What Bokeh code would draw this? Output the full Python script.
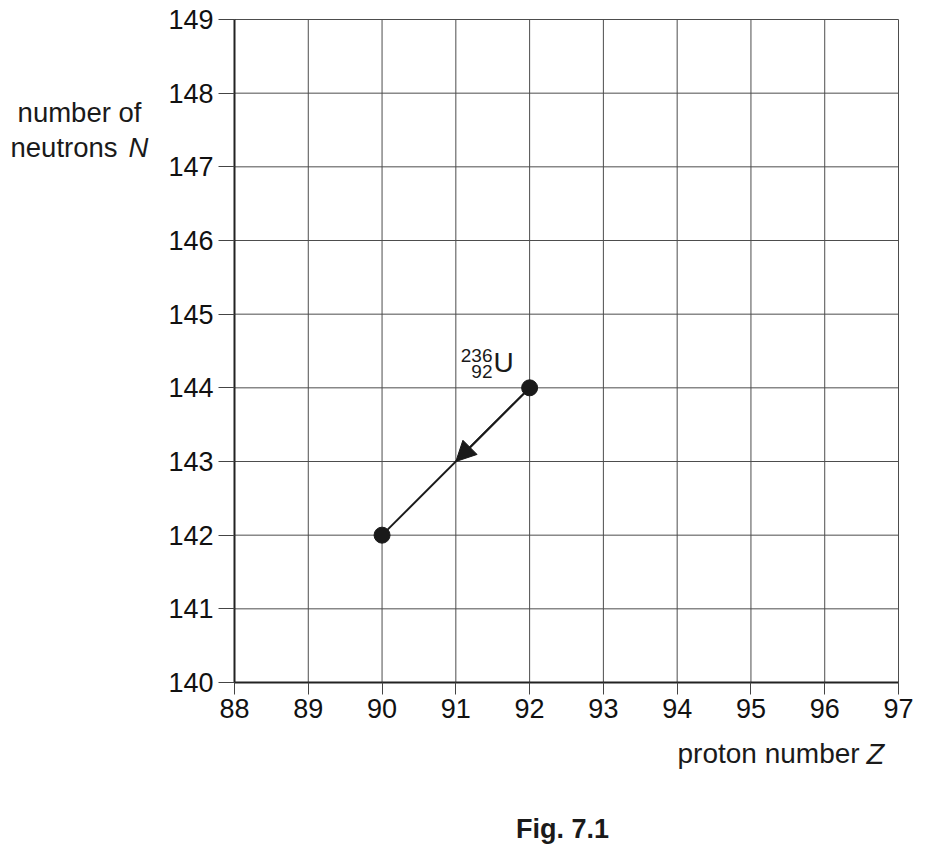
from bokeh.plotting import figure
from bokeh.models import Range1d, Label, Arrow, NormalHead, FixedTicker, LinearAxis
from bokeh.embed import file_html
from bokeh.resources import INLINE

# data
proton_z = [92, 90]
neutron_n = [144, 142]
x_ticks = [88, 89, 90, 91, 92, 93, 94, 95, 96, 97]
y_ticks = [140, 141, 142, 143, 144, 145, 146, 147, 148, 149]

FONT = "Liberation Sans"
W, H = 928, 855
X0, X1 = x_ticks[0], x_ticks[-1]
Y0, Y1 = y_ticks[0], y_ticks[-1]
FL, FR, FT, FB = 234, 898, 19, 682  # pixel box of the 88..97 x 140..149 grid

kx = (X1 - X0) / (FR - FL)
ky = (Y1 - Y0) / (FB - FT)

def dx(px):
    return X0 + (px - FL) * kx

def dy(py):
    return Y1 - (py - FT) * ky

p = figure(width=W, height=H, output_backend="svg", toolbar_location=None,
           x_range=Range1d(dx(0), dx(W)), y_range=Range1d(dy(H), dy(0)),
           x_axis_location=None, y_axis_location=None, min_border=0)
p.background_fill_color = "white"
p.border_fill_color = "white"
p.outline_line_color = None
p.grid.visible = False

# grid lines drawn from the tick lists
p.segment(x0=x_ticks, y0=[Y0] * len(x_ticks), x1=x_ticks, y1=[Y1] * len(x_ticks),
          line_color="#4d4d4d", line_width=1)
p.segment(x0=[X0] * len(y_ticks), y0=y_ticks, x1=[X1] * len(y_ticks), y1=y_ticks,
          line_color="#4d4d4d", line_width=1)

xax = LinearAxis(fixed_location=Y0, ticker=FixedTicker(ticks=x_ticks), bounds=(X0, X1))
yax = LinearAxis(fixed_location=X0, ticker=FixedTicker(ticks=y_ticks), bounds=(Y0, Y1))
for ax in (xax, yax):
    ax.axis_line_color = "#222222"
    ax.axis_line_width = 2
    ax.major_tick_line_color = "#444444"
    ax.major_tick_line_width = 1
    ax.minor_tick_line_color = None
    ax.major_tick_in = 0
    ax.major_label_text_font = FONT
    ax.major_label_text_font_size = "27px"
    ax.major_label_text_color = "#111111"
xax.major_tick_out = 12
yax.major_tick_out = 16
xax.major_label_standoff = 4
yax.major_label_standoff = 5
p.add_layout(xax, "below")
p.add_layout(yax, "left")

# decay line and arrow
p.line(proton_z, neutron_n, line_color="#1a1a1a", line_width=2)
p.add_layout(Arrow(end=NormalHead(size=20, fill_color="#1a1a1a", line_color="#1a1a1a"),
                   x_start=proton_z[0], y_start=neutron_n[0],
                   x_end=(proton_z[0] + proton_z[1]) / 2,
                   y_end=(neutron_n[0] + neutron_n[1]) / 2,
                   line_color="#1a1a1a", line_width=2))
p.scatter(proton_z, neutron_n, size=16, fill_color="#1a1a1a", line_color="#1a1a1a")

def lab(text, px, py, size, align="left", style="normal"):
    p.add_layout(Label(x=dx(px), y=dy(py), text=text, text_font=FONT,
                       text_font_size=size, text_align=align, text_baseline="middle",
                       text_color="#1a1a1a", text_font_style=style))

# nuclide label
lab("236", 492, 355, "19px", align="right")
lab("92", 492, 371, "19px", align="right")
lab("U", 493, 362, "28px")

# axis titles and caption
lab("number of", 79, 112, "27.5px", align="center")
lab("neutrons", 10, 147, "27.5px")
lab("N", 128, 147, "27.5px", style="italic")
lab("proton number", 677, 753, "28px")
lab("Z", 866, 753, "29px", style="italic")
lab("Fig. 7.1", 562, 828, "27px", align="center", style="bold")

open("out.html", "w").write(file_html(p, INLINE))
